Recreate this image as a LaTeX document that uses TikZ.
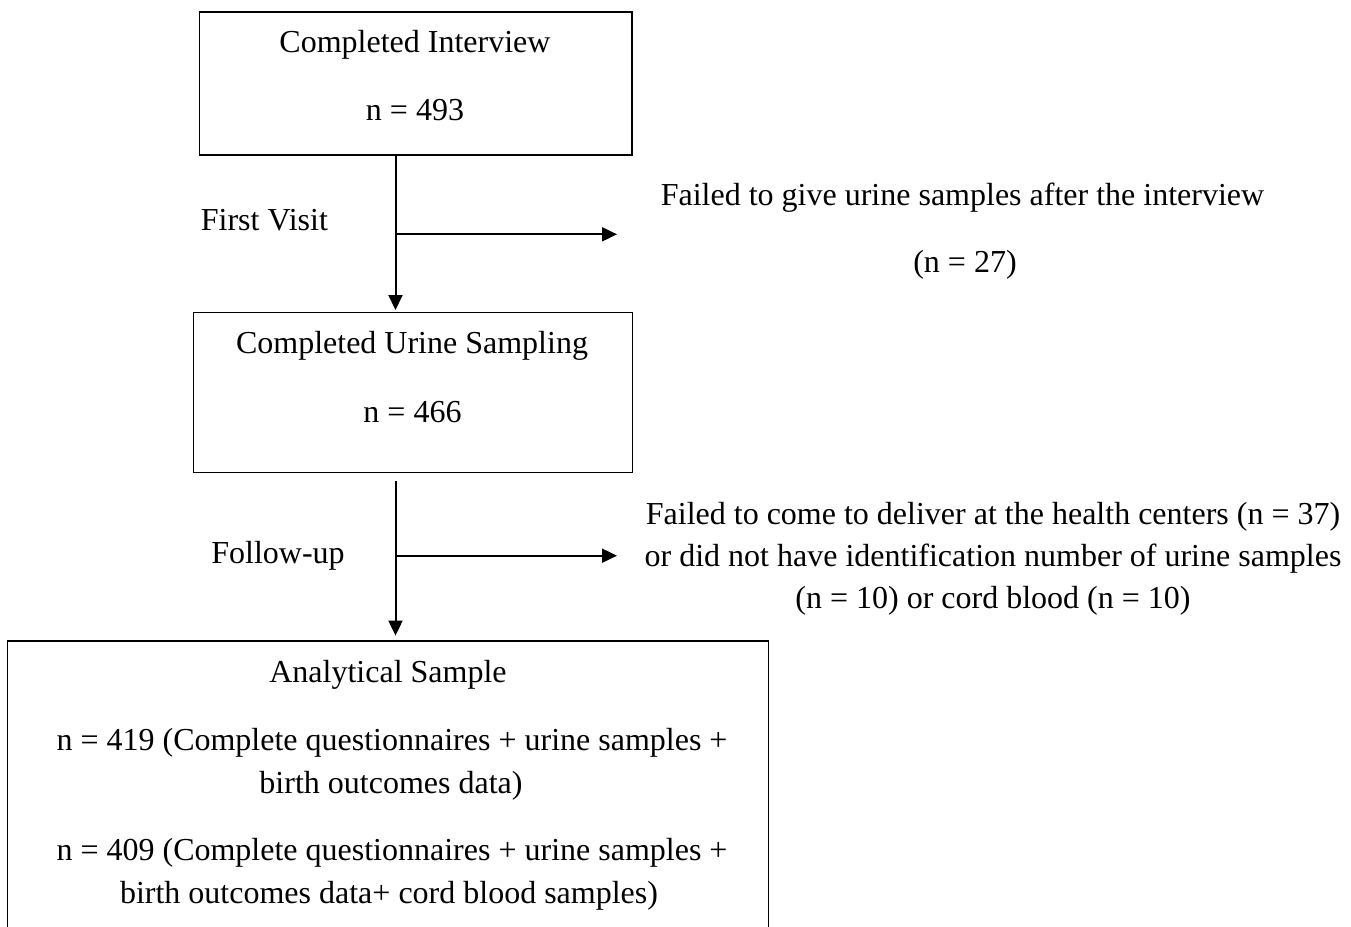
\documentclass[tikz,border=0pt]{standalone}
\usepackage{fontspec}
\setmainfont{Liberation Serif}
\usetikzlibrary{arrows.meta,fit}
\begin{document}
\begin{tikzpicture}[x=0.5pt,y=-0.5pt,
  boxline/.style={draw=black, line width=0.7pt, inner sep=0pt},
  flow/.style={line width=1pt, -{Triangle[length=7.5pt,width=7pt]}},
  txt/.style={anchor=base, inner sep=0pt, font=\fontsize{16}{19}\selectfont}]
\useasboundingbox (0,0) rectangle (1351,927);

% boxes
\node[boxline, fit={(199.5,12)(632,155)}] (box1) {};
\node[boxline, fit={(193.3,312.7)(632.3,472.7)}] (box2) {};
\node[inner sep=0pt, fit={(8,641.5)(768,927)}] (box3) {};
\draw[line width=0.7pt] (box3.south west) |- (box3.north east) -- (box3.south east);

% box texts
\node[txt] (t1) at (415,52.7) {Completed Interview};
\node[txt] (t2) at (415,120) {n = 493};
\node[txt] (t3) at (412,353.3) {Completed Urine Sampling};
\node[txt] (t4) at (412.5,422.5) {n = 466};
\node[txt] (b1) at (388,682) {Analytical Sample};
\node[txt] (b2) at (392,750) {n = 419 (Complete questionnaires + urine samples +};
\node[txt] (b3) at (391,793) {birth outcomes data)};
\node[txt] (b4) at (392,860) {n = 409 (Complete questionnaires + urine samples +};
\node[txt] (b5) at (389,903) {birth outcomes data+ cord blood samples)};

% side labels
\node[txt] (fv) at (264.4,230) {First Visit};
\node[txt] (fu) at (278,563.3) {Follow-up};

% exclusion texts
\node[txt] (r1) at (962.5,205) {Failed to give urine samples after the interview};
\node[txt] (r2) at (965,272) {(n = 27)};
\node[txt] (r3) at (993,524.3) {Failed to come to deliver at the health centers (n = 37)};
\node[txt] (r4) at (993,566.5) {or did not have identification number of urine samples};
\node[txt] (r5) at (993,608.3) {(n = 10) or cord blood (n = 10)};

% connectors
\coordinate (j1) at (395.5,234.3);
\coordinate (e1) at (617,234.3);
\coordinate (s2) at (395.5,481);
\coordinate (j2) at (395.5,555.7);
\coordinate (e2) at (617,555.7);

\draw[flow, shorten >=1pt] (box1.south -| j1) -- (box2.north -| j1);
\draw[flow] (j1) -- (e1);
\draw[flow, shorten >=2.75pt] (s2) -- (box3.north -| s2);
\draw[flow] (j2) -- (e2);
\end{tikzpicture}
\end{document}
